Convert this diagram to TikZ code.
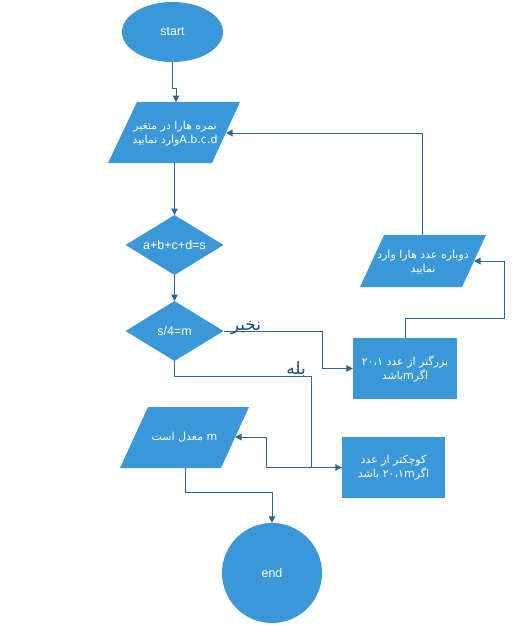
\documentclass[tikz,border=0pt]{standalone}
\usepackage{fontspec}
\setmainfont{Liberation Sans}
\newfontfamily\fa[Script=Arabic]{DejaVu Sans}
\TeXXeTstate=1
\usetikzlibrary{shapes.geometric,arrows.meta}
\definecolor{fillblue}{HTML}{3A98D8}
\definecolor{linec}{HTML}{2E6592}
\definecolor{labc}{HTML}{1F4E79}
\tikzset{
  shp/.style={fill=fillblue,draw=none},
  txt/.style={text=white,align=center,inner sep=0pt,font=\fa\fontsize{11}{14}\selectfont},
  ltxt/.style={text=white,inner sep=0pt,font=\fontsize{12.5}{15}\selectfont},
  conn/.style={draw=linec,line width=1pt,-{Triangle[length=6.5pt,width=6.5pt]}},
  lbl/.style={text=labc,inner sep=0pt,font=\fa\fontsize{17}{18}\selectfont}
}
\begin{document}
\begin{tikzpicture}[x=1pt,y=-1pt]
\useasboundingbox (0,0) rectangle (514,625);
\fill[white] (0,0) rectangle (514,625);

% start
\node[ellipse,shp,minimum width=101pt,minimum height=60pt,inner sep=0pt,ltxt] (start) at (172.5,32) {start};

% parallelogram 1
\fill[fillblue] (108,163) -- (137,102) -- (240,102) -- (212,163) -- cycle;
\node[txt] (p1) at (175,134) {\beginR نمره هارا در متغیر\endR\\\beginR\beginL A.b.c.d\endL وارد نمایید\endR};
\coordinate (p1n) at (176,102);
\coordinate (p1s) at (174.5,163);
\coordinate (p1e) at (226,133);

% diamond 1
\fill[fillblue] (125.5,245) -- (174.5,215) -- (223.5,245) -- (174.5,275) -- cycle;
\node[ltxt] (d1) at (174.5,245) {a+b+c+d=s};
\coordinate (d1n) at (174.5,215);
\coordinate (d1s) at (174.5,275);

% diamond 2
\fill[fillblue] (125.5,331) -- (174.5,301) -- (223.5,331) -- (174.5,361) -- cycle;
\node[ltxt] (d2) at (174.5,331) {s/4=m};
\coordinate (d2n) at (174.5,301);
\coordinate (d2s) at (174.5,361);
\coordinate (d2e) at (223.5,331);

% parallelogram 2
\fill[fillblue] (360,287) -- (384,235) -- (486,235) -- (462,287) -- cycle;
\node[txt] (p2) at (423,262) {\beginR دوباره عدد هارا وارد\endR\\\beginR نمایید\endR};
\coordinate (p2n) at (422,235);
\coordinate (p2e) at (474,261);

% box 1
\node[shp,minimum width=104pt,minimum height=61pt,inner sep=0pt,txt] (b1) at (405,368.5)
  {\beginR بزرگتر از عدد ۲۰،۱\endR\\\beginR اگر\beginL m\endL باشد\endR};

% box 2
\node[shp,minimum width=103pt,minimum height=61pt,inner sep=0pt,txt] (b2) at (393.5,467.5)
  {\beginR کوچکتر از عدد\endR\\\beginR اگر\beginL m\endL۲۰،۱ باشد\endR};

% parallelogram 3
\fill[fillblue] (120,468) -- (148,407) -- (249,407) -- (221,468) -- cycle;
\node[txt] (p3) at (184.5,437.5) {\beginR\beginL m\endL{} معدل است\endR};
\coordinate (p3s) at (185,468);
\coordinate (p3e) at (235,437);

% end
\node[circle,shp,minimum size=100pt,inner sep=0pt,ltxt] (end) at (272,573) {end};

% connectors
\draw[conn] (start.south) -- ++(0,26) -| (p1n);
\draw[conn] (p1s) -- (d1n);
\draw[conn] (d1s) -- (d2n);
\draw[conn] (d2e) -- (322,331) |- (b1.west);
\draw[conn] (d2s) -- (174.5,376) -- (311,376) |- (b2.west);
\draw[conn] (b2.west) -- (266,467.5) |- (p3e);
\draw[conn] (b1.north) -- (405,318) -- (504,318) |- (p2e);
\draw[conn] (p2n) |- (p1e);
\draw[conn] (p3s) -- (185,492) -| (end.north);

% labels
\node[lbl] (no) at (246,328.5) {\beginR نخیر\endR};
\node[lbl] (yes) at (296,369) {\beginR بله\endR};
\end{tikzpicture}
\end{document}
